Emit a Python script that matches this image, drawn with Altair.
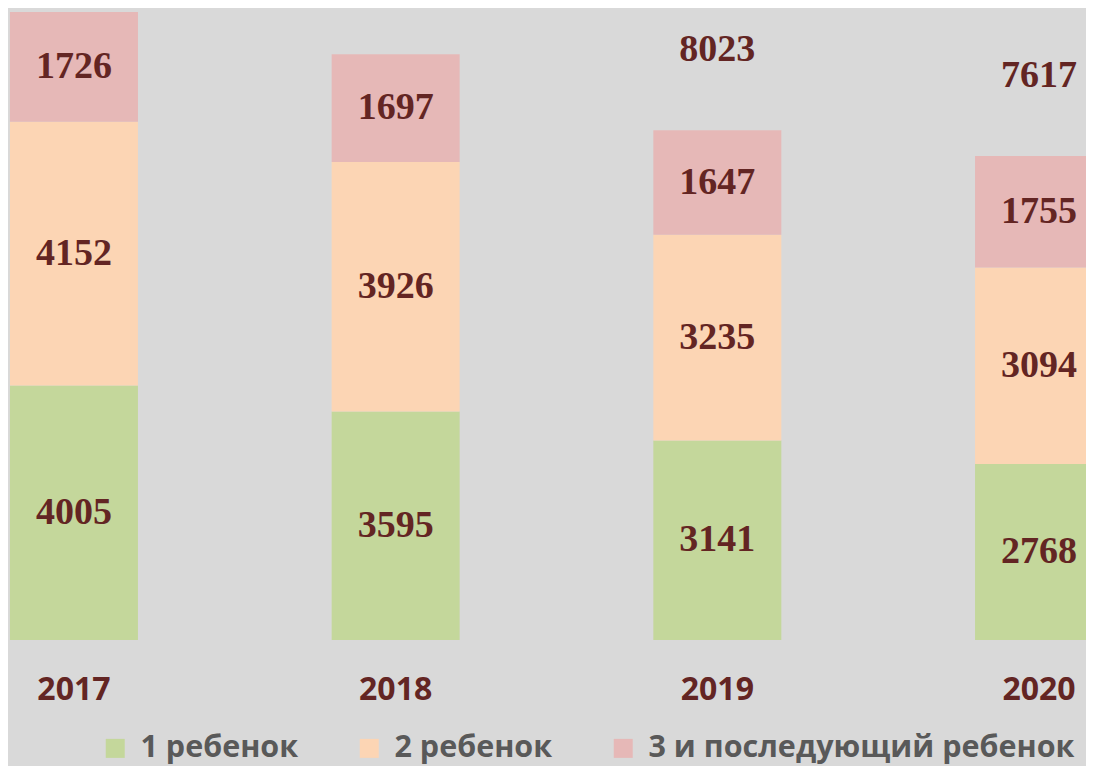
import altair as alt
import pandas as pd

years = [2017, 2018, 2019, 2020]
categories = ["1 ребенок", "2 ребенок", "3 и последующий ребенок"]
child1 = [4005, 3595, 3141, 2768]
child2 = [4152, 3926, 3235, 3094]
child3 = [1726, 1697, 1647, 1755]
totals = [9883, 9218, 8023, 7617]
colors = ["#c4d79b", "#fcd5b4", "#e6b8b7"]

rows = []
for i, y in enumerate(years):
    for k, (cat, vals) in enumerate(zip(categories, [child1, child2, child3])):
        rows.append({"year": y, "cat": cat, "value": vals[i], "order": k})
df = pd.DataFrame(rows)
tot = pd.DataFrame({"year": years, "total": totals})

W, H = 1078, 758
xs = alt.Scale(domain=[2016.795, 2020.146], nice=False, zero=False, padding=0)
ys = alt.Scale(domain=[-1983, 9946], nice=False, zero=False, padding=0)
label_color = "#632523"

base = alt.Chart(df)

bars = base.mark_bar(size=128, clip=True).encode(
    x=alt.X("year:Q", scale=xs, axis=None),
    y=alt.Y("value:Q", scale=ys, axis=None, stack="zero"),
    color=alt.Color(
        "cat:N",
        scale=alt.Scale(domain=categories, range=colors),
        legend=alt.Legend(
            title=None,
            orient="none",
            direction="horizontal",
            legendX=92,
            legendY=725,
            symbolType="square",
            symbolSize=361,
            symbolStrokeWidth=0,
            labelFont="Open Sans",
            labelFontWeight="bold",
            labelFontSize=30.5,
            labelColor="#595959",
            labelOffset=10,
            columnPadding=55,
            labelLimit=600,
        ),
    ),
    order=alt.Order("order:Q"),
)

seg_labels = base.transform_stack(
    stack="value", groupby=["year"], as_=["v0", "v1"],
    sort=[alt.SortField("order", order="ascending")],
).transform_calculate(mid="(datum.v0 + datum.v1) / 2").mark_text(
    font="Liberation Serif", fontWeight="bold", fontSize=38,
    color=label_color, baseline="middle", clip=True,
).encode(
    x=alt.X("year:Q", scale=xs),
    y=alt.Y("mid:Q", scale=ys),
    text=alt.Text("value:Q", format="d"),
)

# totals of 2017 and 2018 fall outside the visible area in the reference
total_labels = alt.Chart(tot).transform_filter("datum.year >= 2019").mark_text(
    font="Liberation Serif", fontWeight="bold", fontSize=38,
    color=label_color, baseline="middle", dy=-80, clip=True,
).encode(
    x=alt.X("year:Q", scale=xs),
    y=alt.Y("total:Q", scale=ys),
    text=alt.Text("total:Q", format="d"),
)

year_labels = alt.Chart(tot).mark_text(
    font="Open Sans", fontWeight="bold", fontSize=32,
    color=label_color, baseline="middle", clip=True,
).encode(
    x=alt.X("year:Q", scale=xs),
    y=alt.value(682),
    text=alt.Text("year:Q", format="d"),
)

chart = alt.layer(bars, seg_labels, total_labels, year_labels).properties(
    width=W, height=H,
    autosize=alt.AutoSizeParams(type="none"),
    padding=0,
    background="#d9d9d9",
).configure_view(stroke=None, fill="#d9d9d9")

chart.save("out.html", embed_options={"renderer": "svg", "actions": False})
